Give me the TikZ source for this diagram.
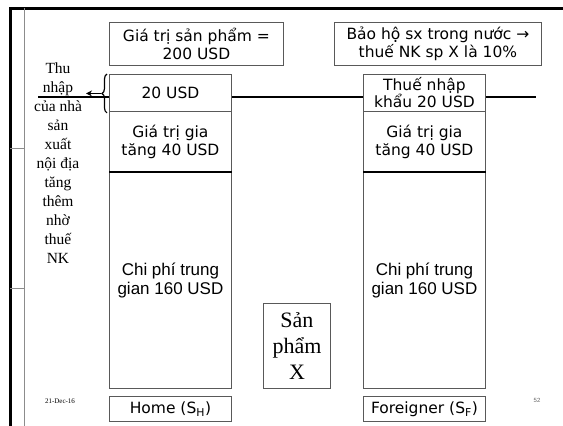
\documentclass[tikz,border=0pt]{standalone}
\usepackage{fontspec}
\setmainfont{Liberation Serif}
\newfontfamily\vfont{DejaVu Sans}
\newfontfamily\afont{Liberation Sans}
\usetikzlibrary{decorations.pathreplacing,arrows.meta,calc}
\tikzset{
  boxline/.style={draw=black!65, line width=0.9pt},
  vbox/.style={boxline, font=\vfont\fontsize{15.5}{18.5}\selectfont, align=center, anchor=north west, inner sep=0pt},
  colpart/.style={vbox, minimum width=122pt},
  thickline/.style={line width=2pt, black},
  frameline/.style={line width=3pt, black},
  thinframe/.style={draw=black!45, line width=0.8pt}
}
\begin{document}
\begin{tikzpicture}[x=1pt,y=-1pt]
\useasboundingbox (0,0) rectangle (563,426);
% frame
\draw[frameline] (10,426) -- (10,8) -- (563,8);
\draw[thinframe] (24,8) -- (24,426);
\draw[thinframe] (10,148) -- (24,148);
\draw[thinframe] (10,288) -- (24,288);
% top boxes
\node[vbox, minimum width=174pt, minimum height=43pt] (gia) at (109,22) {Giá trị sản phẩm =\\200 USD};
\node[vbox, minimum width=207pt, minimum height=43pt] (bao) at (334,22) {Bảo hộ sx trong nước →\\thuế NK sp X là 10\%};
% home column
\node[colpart, minimum height=37pt] (htop) at (109,74) {20 USD};
\node[colpart, minimum height=61pt] (hmid) at (109,111) {\rule{0pt}{2pt}Giá trị gia\\tăng 40 USD};
\node[colpart, minimum height=216pt, font=\afont\fontsize{17}{19}\selectfont] (hbot) at (109,172) {Chi phí trung\\gian 160 USD};
\node[colpart, minimum height=25pt] (hlab) at (109,396) {Home (S\textsubscript{H})};
% foreign column
\node[colpart, minimum height=37pt, font=\vfont\fontsize{15.5}{17}\selectfont] (ftop) at (363,74) {Thuế nhập\\khẩu 20 USD};
\node[colpart, minimum height=61pt] (fmid) at (363,111) {\rule{0pt}{2pt}Giá trị gia\\tăng 40 USD};
\node[colpart, minimum height=216pt, font=\afont\fontsize{17}{19}\selectfont] (fbot) at (363,172) {Chi phí trung\\gian 160 USD};
\node[colpart, minimum height=25pt] (flab) at (363,396) {Foreigner (S\textsubscript{F})};
% black dividers
\draw[line width=1.4pt] (hbot.north west) -- (hbot.north east);
\draw[line width=1.4pt] (fbot.north west) -- (fbot.north east);
% product box
\node[boxline, anchor=north west, minimum width=67pt, minimum height=85pt, align=center, inner sep=0pt,
      font=\fontsize{22}{26}\selectfont] (sp) at (263,303) {Sản\\phẩm\\X};
% left text
\node[align=center, font=\fontsize{15.5}{19}\selectfont, inner sep=0pt] (thu) at (58,163)
  {Thu\\nhập\\của nhà\\sản\\xuất\\nội địa\\tăng\\thêm\\nhờ\\thuế\\NK};
% horizontal line
\coordinate (L) at (38,97);
\coordinate (R) at (536,97);
\draw[thickline] (L) -- (L -| htop.west);
\draw[thickline] (htop.east |- L) -- (ftop.west |- L);
\draw[thickline] (ftop.east |- L) -- (R);
% brace and arrow
\draw[line width=1.2pt, decorate, decoration={brace, amplitude=5pt}] ($(htop.south west)+(-2,1)$) -- ($(htop.north west)+(-2,0)$) coordinate[midway, xshift=-6pt] (btip);
\coordinate (atip) at (86,92.5);
\draw[line width=1.2pt, -{Stealth[length=6pt,width=6pt]}] (btip) -- (atip |- btip);
% footer
\node[font=\fontsize{7}{8}\selectfont, inner sep=0pt] (date) at (60,401) {21-Dec-16};
\node[font=\afont\fontsize{6}{7}\selectfont, text=black!60, inner sep=0pt] (pg) at (537,400) {52};
\end{tikzpicture}
\end{document}
